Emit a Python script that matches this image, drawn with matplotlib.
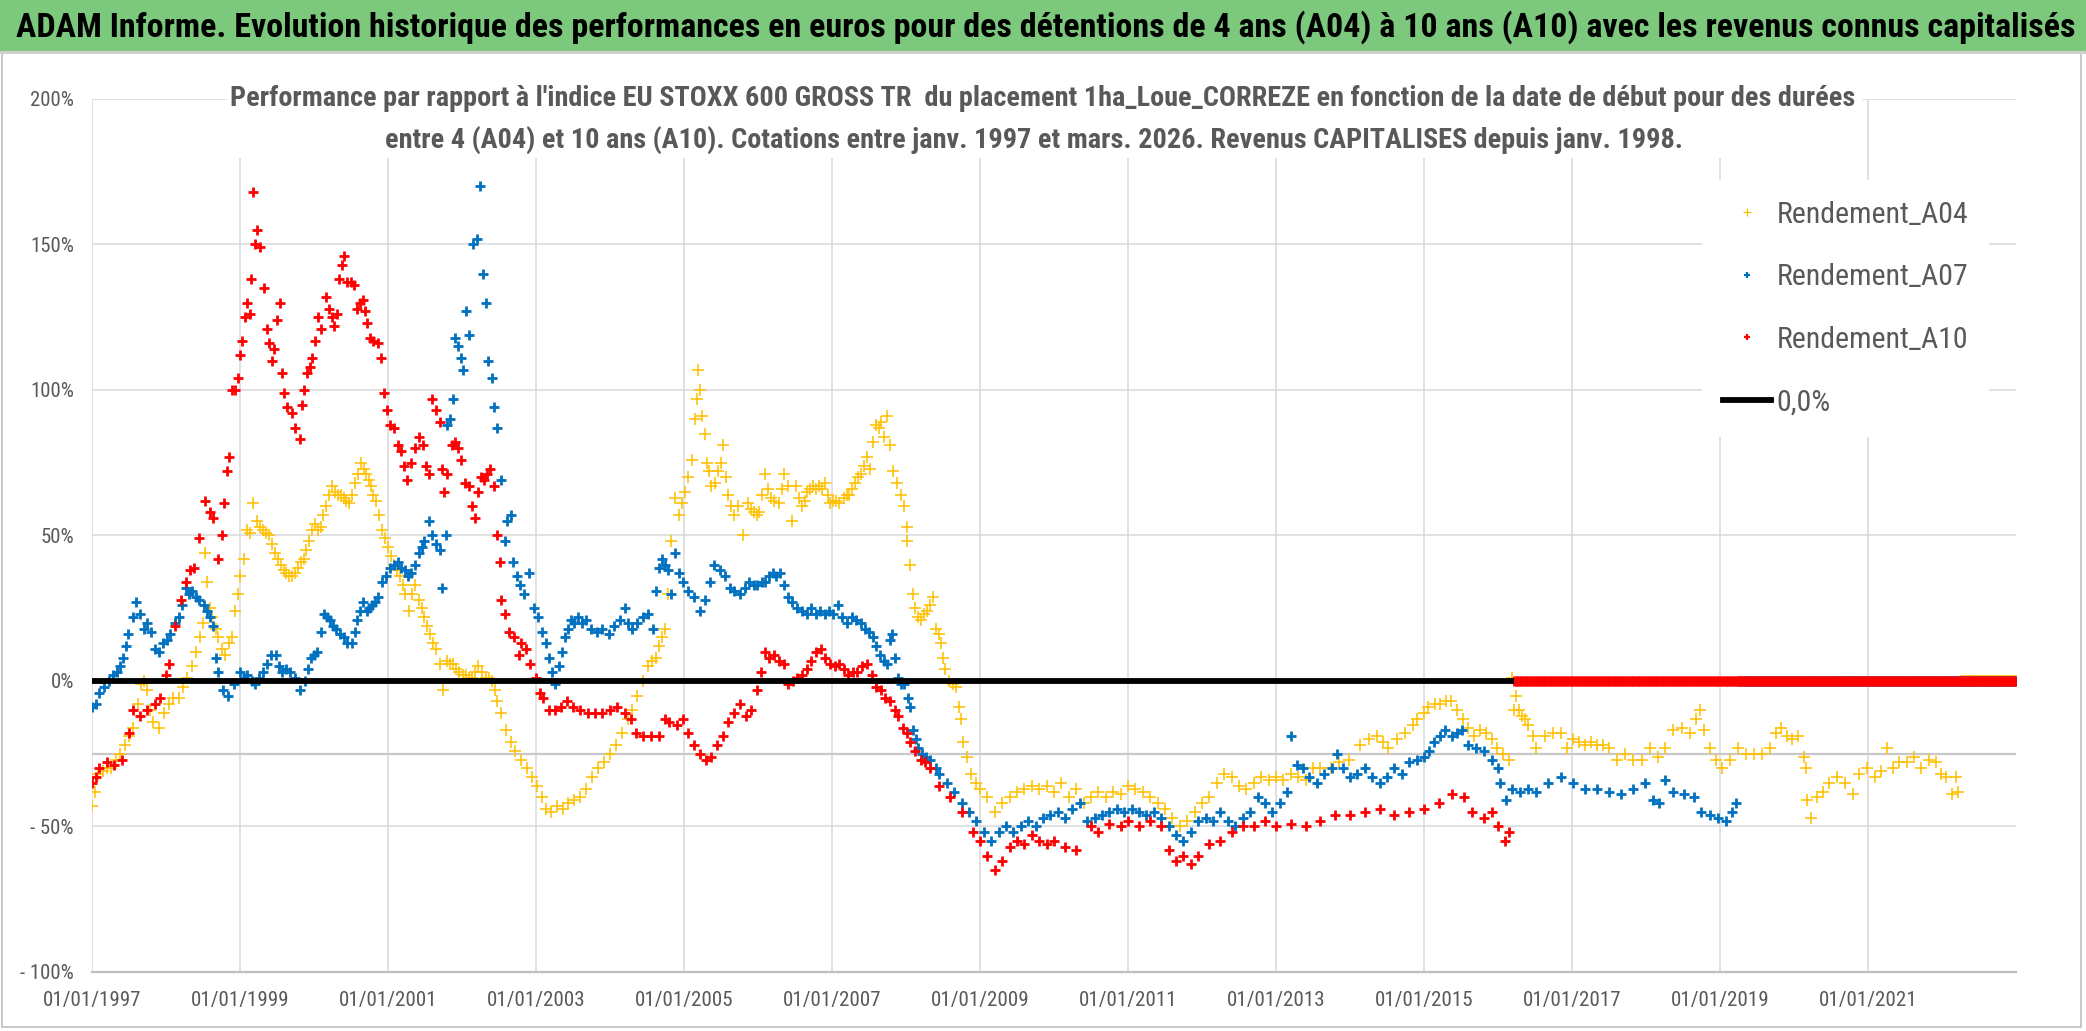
import numpy as np
import pandas as pd
import matplotlib
matplotlib.use("Agg")
from matplotlib import pyplot as plt
from matplotlib import font_manager
from matplotlib.patches import Rectangle
from matplotlib.lines import Line2D
import matplotlib.dates as mdates
from datetime import datetime

# ---- data (decimal year, performance in %) ----
a04_points = [
    (1997.0, -43), (1997.04, -38), (1997.08, -32), (1997.15, -31), (1997.2, -30), (1997.26, -30),
    (1997.32, -27), (1997.38, -25), (1997.44, -22), (1997.5, -19), (1997.56, -16), (1997.62, -8),
    (1997.66, -1), (1997.7, 0), (1997.74, -3), (1997.79, -10), (1997.83, -14), (1997.9, -16),
    (1997.98, -11), (1998.04, -8), (1998.1, -6), (1998.17, -6), (1998.23, -2), (1998.29, 1),
    (1998.35, 5), (1998.41, 10), (1998.46, 15), (1998.5, 20), (1998.53, 44), (1998.56, 34),
    (1998.59, 25), (1998.62, 22), (1998.67, 18), (1998.71, 15), (1998.76, 11), (1998.8, 9),
    (1998.85, 13), (1998.89, 15), (1998.93, 24), (1998.97, 30), (1999.0, 36), (1999.05, 42),
    (1999.1, 52), (1999.14, 51), (1999.18, 61), (1999.23, 55), (1999.27, 53), (1999.31, 52),
    (1999.35, 51), (1999.39, 50), (1999.43, 47), (1999.47, 44), (1999.51, 42), (1999.55, 40),
    (1999.59, 38), (1999.62, 37), (1999.66, 36), (1999.7, 36), (1999.74, 37), (1999.78, 39),
    (1999.82, 41), (1999.86, 42), (1999.9, 45), (1999.94, 48), (1999.98, 52), (2000.01, 54),
    (2000.05, 52), (2000.09, 53), (2000.13, 57), (2000.17, 60), (2000.21, 64), (2000.25, 67),
    (2000.29, 65), (2000.32, 64), (2000.36, 64), (2000.4, 63), (2000.44, 62), (2000.48, 61),
    (2000.52, 64), (2000.56, 68), (2000.6, 71), (2000.64, 75), (2000.67, 73), (2000.7, 71),
    (2000.74, 69), (2000.77, 67), (2000.8, 64), (2000.84, 62), (2000.88, 57), (2000.92, 52),
    (2000.96, 49), (2001.0, 46), (2001.04, 43), (2001.08, 40), (2001.12, 38), (2001.16, 36),
    (2001.2, 33), (2001.23, 30), (2001.29, 24), (2001.33, 30), (2001.36, 33), (2001.42, 28),
    (2001.46, 25), (2001.49, 22), (2001.53, 19), (2001.57, 16), (2001.61, 13), (2001.65, 11),
    (2001.7, 6), (2001.75, -3), (2001.8, 7), (2001.84, 6), (2001.88, 6), (2001.92, 4),
    (2001.96, 3), (2002.01, 2), (2002.06, 2), (2002.1, 1), (2002.14, 1), (2002.18, 3),
    (2002.22, 5), (2002.27, 3), (2002.32, 1), (2002.36, 1), (2002.4, 0), (2002.44, -3),
    (2002.48, -7), (2002.53, -11), (2002.6, -17), (2002.66, -21), (2002.72, -24), (2002.8, -27),
    (2002.88, -30), (2002.95, -33), (2003.02, -36), (2003.08, -40), (2003.14, -44), (2003.2, -45),
    (2003.28, -43), (2003.36, -44), (2003.44, -42), (2003.52, -41), (2003.6, -40), (2003.68, -37),
    (2003.76, -33), (2003.84, -30), (2003.92, -28), (2004.0, -25), (2004.08, -22), (2004.16, -18),
    (2004.24, -13), (2004.3, -10), (2004.36, -5), (2004.44, 0), (2004.52, 5), (2004.57, 7),
    (2004.62, 8), (2004.66, 12), (2004.7, 15), (2004.75, 18), (2004.79, 30), (2004.83, 48),
    (2004.88, 63), (2004.93, 57), (2004.97, 61), (2005.01, 65), (2005.06, 70), (2005.11, 76),
    (2005.15, 90), (2005.17, 97), (2005.19, 107), (2005.22, 100), (2005.24, 91), (2005.28, 85),
    (2005.31, 75), (2005.34, 72), (2005.37, 67), (2005.42, 68), (2005.46, 72), (2005.5, 75),
    (2005.53, 81), (2005.57, 70), (2005.6, 64), (2005.64, 60), (2005.68, 57), (2005.73, 60),
    (2005.8, 50), (2005.86, 61), (2005.9, 59), (2005.94, 58), (2005.98, 57), (2006.02, 58),
    (2006.06, 64), (2006.1, 71), (2006.14, 66), (2006.17, 63), (2006.22, 62), (2006.28, 61),
    (2006.32, 66), (2006.35, 71), (2006.41, 67), (2006.46, 55), (2006.51, 67), (2006.55, 63),
    (2006.59, 60), (2006.63, 62), (2006.66, 65), (2006.7, 66), (2006.74, 67), (2006.78, 66),
    (2006.82, 67), (2006.86, 66), (2006.9, 68), (2006.94, 64), (2006.97, 61), (2007.01, 62),
    (2007.05, 62), (2007.1, 61), (2007.16, 63), (2007.2, 64), (2007.23, 64), (2007.27, 66),
    (2007.31, 68), (2007.35, 70), (2007.39, 71), (2007.43, 74), (2007.47, 77), (2007.52, 73),
    (2007.56, 82), (2007.59, 88), (2007.63, 87), (2007.67, 89), (2007.7, 84), (2007.75, 91),
    (2007.78, 81), (2007.83, 72), (2007.88, 68), (2007.93, 64), (2007.98, 60), (2008.01, 53),
    (2008.02, 48), (2008.05, 40), (2008.09, 30), (2008.12, 25), (2008.16, 22), (2008.21, 21),
    (2008.25, 23), (2008.29, 24), (2008.33, 26), (2008.37, 29), (2008.4, 18), (2008.44, 16),
    (2008.47, 13), (2008.5, 8), (2008.53, 4), (2008.58, 0), (2008.63, -1), (2008.68, -2),
    (2008.71, -9), (2008.74, -13), (2008.77, -21), (2008.82, -26), (2008.88, -32), (2008.95, -35),
    (2009.0, -37), (2009.1, -40), (2009.2, -45), (2009.3, -42), (2009.4, -40), (2009.5, -38),
    (2009.6, -37), (2009.7, -36), (2009.8, -37), (2009.9, -36), (2010.0, -38), (2010.1, -35),
    (2010.2, -40), (2010.3, -37), (2010.4, -42), (2010.5, -40), (2010.6, -38), (2010.7, -40),
    (2010.8, -38), (2010.9, -39), (2011.0, -36), (2011.1, -37), (2011.2, -38), (2011.3, -40),
    (2011.4, -42), (2011.5, -44), (2011.6, -47), (2011.7, -50), (2011.8, -48), (2011.9, -45),
    (2012.0, -42), (2012.1, -40), (2012.2, -35), (2012.3, -32), (2012.4, -33), (2012.5, -36),
    (2012.6, -37), (2012.7, -35), (2012.8, -33), (2012.9, -34), (2013.0, -33), (2013.1, -34),
    (2013.2, -32), (2013.3, -33), (2013.4, -34), (2013.5, -30), (2013.6, -30), (2013.74, -30),
    (2013.85, -28), (2013.98, -27), (2014.13, -22), (2014.25, -20), (2014.36, -19), (2014.45, -21),
    (2014.52, -23), (2014.63, -20), (2014.75, -18), (2014.85, -15), (2014.91, -13), (2015.0, -11),
    (2015.06, -9), (2015.15, -8), (2015.22, -8), (2015.3, -7), (2015.37, -7), (2015.45, -10),
    (2015.53, -13), (2015.6, -16), (2015.68, -19), (2015.76, -17), (2015.84, -18), (2015.92, -20),
    (2015.99, -23), (2016.07, -25), (2016.15, -27), (2016.19, 1), (2016.22, -10), (2016.25, -5),
    (2016.28, -10), (2016.32, -12), (2016.36, -13), (2016.41, -15), (2016.47, -19), (2016.52, -23),
    (2016.63, -19), (2016.74, -18), (2016.85, -18), (2016.93, -23), (2017.01, -20), (2017.09, -21),
    (2017.17, -22), (2017.25, -21), (2017.34, -22), (2017.42, -22), (2017.5, -23), (2017.61, -27),
    (2017.72, -25), (2017.83, -27), (2017.94, -27), (2018.05, -23), (2018.16, -26), (2018.26, -23),
    (2018.37, -17), (2018.48, -16), (2018.59, -18), (2018.67, -13), (2018.73, -10), (2018.78, -17),
    (2018.86, -23), (2018.95, -27), (2019.03, -30), (2019.14, -27), (2019.25, -23), (2019.35, -25),
    (2019.46, -25), (2019.57, -25), (2019.68, -23), (2019.76, -18), (2019.82, -16), (2019.9, -19),
    (2019.98, -20), (2020.06, -19), (2020.14, -26), (2020.16, -30), (2020.17, -41), (2020.23, -47),
    (2020.31, -40), (2020.39, -38), (2020.47, -35), (2020.58, -33), (2020.69, -35), (2020.8, -39),
    (2020.88, -32), (2020.99, -30), (2021.1, -33), (2021.18, -31), (2021.26, -23), (2021.34, -30),
    (2021.42, -28), (2021.53, -28), (2021.62, -26), (2021.72, -30), (2021.83, -27), (2021.92, -28),
    (2021.99, -32), (2022.05, -33), (2022.13, -39), (2022.19, -33), (2022.22, -38),
]

a07_points = [
    (1997.0, -9), (1997.05, -8), (1997.1, -4), (1997.16, -2), (1997.23, 0), (1997.28, 2),
    (1997.34, 3), (1997.38, 5), (1997.42, 8), (1997.46, 12), (1997.49, 16), (1997.55, 22),
    (1997.6, 27), (1997.65, 23), (1997.7, 18), (1997.75, 20), (1997.8, 17), (1997.85, 11),
    (1997.9, 10), (1997.96, 13), (1998.02, 14), (1998.06, 16), (1998.12, 20), (1998.17, 22),
    (1998.22, 26), (1998.27, 32), (1998.31, 30), (1998.35, 31), (1998.4, 29), (1998.45, 28),
    (1998.51, 26), (1998.55, 24), (1998.6, 22), (1998.64, 19), (1998.67, 8), (1998.7, 3),
    (1998.77, -3), (1998.84, -5), (1998.92, -1), (1999.0, 3), (1999.05, 1), (1999.1, 2),
    (1999.16, 0), (1999.21, -1), (1999.26, 1), (1999.31, 3), (1999.37, 6), (1999.42, 9),
    (1999.49, 9), (1999.53, 5), (1999.57, 3), (1999.63, 4), (1999.68, 3), (1999.75, 1),
    (1999.81, -3), (1999.88, 0), (1999.92, 4), (1999.96, 8), (2000.0, 9), (2000.04, 10),
    (2000.09, 17), (2000.14, 23), (2000.18, 22), (2000.22, 21), (2000.26, 19), (2000.3, 18),
    (2000.35, 16), (2000.4, 15), (2000.45, 13), (2000.51, 13), (2000.55, 17), (2000.58, 21),
    (2000.62, 24), (2000.66, 27), (2000.71, 24), (2000.75, 25), (2000.79, 26), (2000.83, 27),
    (2000.87, 29), (2000.92, 34), (2000.97, 36), (2001.03, 39), (2001.08, 40), (2001.13, 41),
    (2001.18, 39), (2001.23, 38), (2001.27, 36), (2001.31, 37), (2001.37, 40), (2001.42, 44),
    (2001.46, 46), (2001.49, 48), (2001.55, 55), (2001.6, 50), (2001.65, 47), (2001.7, 45),
    (2001.73, 32), (2001.78, 50), (2001.8, 88), (2001.84, 90), (2001.88, 97), (2001.91, 118),
    (2001.95, 115), (2001.99, 111), (2002.01, 107), (2002.06, 127), (2002.1, 119), (2002.15, 150),
    (2002.2, 152), (2002.25, 170), (2002.28, 140), (2002.32, 130), (2002.35, 110), (2002.4, 104),
    (2002.43, 94), (2002.48, 87), (2002.53, 69), (2002.58, 48), (2002.61, 55), (2002.66, 57),
    (2002.69, 41), (2002.74, 36), (2002.79, 33), (2002.84, 30), (2002.9, 37), (2002.97, 25),
    (2003.03, 22), (2003.08, 17), (2003.13, 13), (2003.18, 8), (2003.22, 3), (2003.26, -1),
    (2003.31, 5), (2003.35, 10), (2003.39, 15), (2003.43, 18), (2003.47, 21), (2003.52, 20),
    (2003.57, 22), (2003.62, 20), (2003.68, 21), (2003.75, 18), (2003.83, 17), (2003.9, 18),
    (2003.99, 16), (2004.06, 19), (2004.14, 21), (2004.2, 25), (2004.25, 20), (2004.3, 18),
    (2004.37, 20), (2004.45, 22), (2004.52, 23), (2004.58, 18), (2004.62, 31), (2004.66, 39),
    (2004.7, 42), (2004.74, 40), (2004.78, 38), (2004.83, 30), (2004.88, 44), (2004.93, 37),
    (2004.98, 34), (2005.06, 31), (2005.14, 29), (2005.22, 24), (2005.29, 28), (2005.35, 34),
    (2005.4, 40), (2005.48, 38), (2005.55, 36), (2005.62, 32), (2005.68, 31), (2005.76, 30),
    (2005.82, 32), (2005.88, 34), (2005.94, 33), (2005.99, 33), (2006.05, 34), (2006.1, 34),
    (2006.15, 36), (2006.2, 37), (2006.25, 36), (2006.3, 37), (2006.35, 33), (2006.4, 29),
    (2006.46, 27), (2006.53, 25), (2006.6, 24), (2006.66, 23), (2006.72, 25), (2006.78, 23),
    (2006.84, 24), (2006.9, 23), (2006.96, 24), (2007.02, 23), (2007.08, 26), (2007.14, 22),
    (2007.2, 20), (2007.27, 22), (2007.33, 21), (2007.39, 20), (2007.45, 18), (2007.5, 17),
    (2007.55, 15), (2007.6, 12), (2007.65, 9), (2007.7, 7), (2007.74, 6), (2007.78, 14),
    (2007.81, 16), (2007.85, 8), (2007.89, 1), (2007.94, -1), (2007.98, -1), (2008.03, -6),
    (2008.06, -9), (2008.09, -17), (2008.13, -20), (2008.16, -23), (2008.22, -25), (2008.27, -26),
    (2008.32, -27), (2008.4, -30), (2008.45, -32), (2008.55, -35), (2008.65, -38), (2008.75, -42),
    (2008.85, -45), (2008.95, -48), (2009.05, -52), (2009.15, -55), (2009.25, -52), (2009.35, -50),
    (2009.45, -52), (2009.55, -50), (2009.65, -48), (2009.75, -50), (2009.85, -47), (2009.95, -46),
    (2010.05, -45), (2010.15, -47), (2010.25, -44), (2010.35, -42), (2010.45, -48), (2010.55, -47),
    (2010.65, -46), (2010.75, -45), (2010.85, -44), (2010.95, -45), (2011.05, -44), (2011.15, -45),
    (2011.25, -46), (2011.35, -45), (2011.45, -47), (2011.55, -50), (2011.65, -53), (2011.75, -55),
    (2011.85, -52), (2011.95, -48), (2012.05, -47), (2012.15, -48), (2012.25, -45), (2012.35, -48),
    (2012.45, -50), (2012.55, -47), (2012.65, -45), (2012.75, -40), (2012.85, -42), (2012.95, -45),
    (2013.05, -42), (2013.15, -38), (2013.2, -19), (2013.28, -29), (2013.36, -30), (2013.45, -33),
    (2013.55, -35), (2013.65, -32), (2013.75, -30), (2013.82, -25), (2013.9, -30), (2014.0, -33),
    (2014.1, -32), (2014.2, -30), (2014.3, -33), (2014.4, -35), (2014.5, -33), (2014.6, -30),
    (2014.7, -32), (2014.8, -28), (2014.9, -27), (2015.0, -26), (2015.07, -24), (2015.14, -21),
    (2015.22, -19), (2015.29, -17), (2015.38, -19), (2015.45, -18), (2015.51, -17), (2015.6, -22),
    (2015.7, -23), (2015.81, -24), (2015.92, -27), (2016.0, -30), (2016.03, -35), (2016.11, -41),
    (2016.19, -37), (2016.3, -38), (2016.41, -37), (2016.52, -38), (2016.68, -35), (2016.85, -33),
    (2017.01, -35), (2017.17, -37), (2017.34, -37), (2017.5, -38), (2017.66, -39), (2017.83, -37),
    (2017.99, -35), (2018.1, -41), (2018.18, -42), (2018.26, -34), (2018.37, -38), (2018.51, -39),
    (2018.65, -40), (2018.75, -45), (2018.86, -46), (2018.97, -47), (2019.08, -48), (2019.16, -45),
    (2019.22, -42),
]

a10_points = [
    (1997.0, -35), (1997.05, -33), (1997.1, -30), (1997.2, -28), (1997.3, -29), (1997.4, -27),
    (1997.5, -18), (1997.56, -10), (1997.65, -12), (1997.74, -10), (1997.85, -8), (1997.92, -6),
    (1998.0, 2), (1998.04, 6), (1998.12, 19), (1998.2, 28), (1998.27, 34), (1998.33, 38),
    (1998.38, 39), (1998.45, 49), (1998.53, 62), (1998.6, 58), (1998.64, 56), (1998.71, 42),
    (1998.76, 50), (1998.79, 61), (1998.82, 72), (1998.85, 77), (1998.89, 100), (1998.93, 100),
    (1998.97, 104), (1999.0, 112), (1999.03, 117), (1999.07, 125), (1999.1, 130), (1999.13, 126),
    (1999.15, 138), (1999.18, 168), (1999.2, 150), (1999.23, 155), (1999.27, 149), (1999.32, 135),
    (1999.37, 121), (1999.4, 116), (1999.43, 110), (1999.46, 114), (1999.5, 124), (1999.54, 130),
    (1999.57, 106), (1999.6, 99), (1999.64, 94), (1999.7, 92), (1999.75, 87), (1999.81, 83),
    (1999.84, 95), (1999.87, 100), (1999.91, 106), (1999.95, 108), (1999.98, 111), (2000.02, 117),
    (2000.06, 125), (2000.1, 121), (2000.16, 132), (2000.2, 128), (2000.24, 125), (2000.27, 122),
    (2000.31, 126), (2000.34, 138), (2000.38, 143), (2000.41, 146), (2000.45, 137), (2000.5, 137),
    (2000.54, 136), (2000.58, 128), (2000.62, 130), (2000.66, 131), (2000.69, 127), (2000.72, 123),
    (2000.76, 118), (2000.8, 117), (2000.86, 116), (2000.9, 111), (2000.94, 99), (2000.98, 93),
    (2001.03, 88), (2001.08, 87), (2001.13, 81), (2001.18, 79), (2001.22, 74), (2001.26, 69),
    (2001.31, 75), (2001.36, 80), (2001.42, 84), (2001.47, 81), (2001.52, 74), (2001.55, 71),
    (2001.6, 97), (2001.65, 93), (2001.7, 89), (2001.73, 73), (2001.76, 65), (2001.8, 71),
    (2001.86, 81), (2001.9, 82), (2001.94, 80), (2001.99, 76), (2002.04, 68), (2002.09, 67),
    (2002.14, 60), (2002.17, 56), (2002.22, 65), (2002.26, 70), (2002.3, 69), (2002.34, 71),
    (2002.38, 73), (2002.43, 67), (2002.48, 50), (2002.51, 41), (2002.53, 28), (2002.58, 23),
    (2002.64, 17), (2002.71, 15), (2002.77, 9), (2002.8, 13), (2002.87, 11), (2002.92, 6),
    (2003.0, 1), (2003.05, -4), (2003.1, -6), (2003.18, -10), (2003.26, -10), (2003.34, -9),
    (2003.42, -7), (2003.5, -9), (2003.6, -10), (2003.7, -11), (2003.8, -11), (2003.9, -11),
    (2004.0, -10), (2004.1, -9), (2004.2, -11), (2004.28, -13), (2004.35, -18), (2004.45, -19),
    (2004.55, -19), (2004.66, -19), (2004.74, -13), (2004.8, -14), (2004.9, -15), (2004.98, -13),
    (2005.06, -18), (2005.14, -22), (2005.22, -25), (2005.3, -27), (2005.37, -26), (2005.45, -22),
    (2005.53, -19), (2005.6, -14), (2005.68, -11), (2005.76, -8), (2005.84, -12), (2005.9, -10),
    (2005.99, -3), (2006.04, 3), (2006.1, 10), (2006.15, 8), (2006.22, 9), (2006.28, 7),
    (2006.35, 6), (2006.41, -1), (2006.47, 0), (2006.53, 1), (2006.6, 2), (2006.66, 4),
    (2006.72, 7), (2006.78, 10), (2006.85, 11), (2006.91, 8), (2006.97, 6), (2007.04, 5),
    (2007.1, 6), (2007.16, 4), (2007.22, 2), (2007.28, 3), (2007.34, 3), (2007.4, 5),
    (2007.47, 6), (2007.54, 2), (2007.6, -2), (2007.66, -3), (2007.72, -6), (2007.78, -7),
    (2007.85, -10), (2007.9, -12), (2007.96, -16), (2008.01, -18), (2008.06, -21), (2008.12, -24),
    (2008.2, -27), (2008.26, -28), (2008.32, -30), (2008.45, -36), (2008.6, -40), (2008.75, -45),
    (2008.9, -52), (2009.0, -55), (2009.1, -60), (2009.2, -65), (2009.3, -62), (2009.4, -57),
    (2009.5, -55), (2009.6, -56), (2009.7, -53), (2009.8, -55), (2009.9, -56), (2010.0, -55),
    (2010.15, -57), (2010.3, -58), (2010.5, -50), (2010.6, -52), (2010.75, -49), (2010.9, -50),
    (2011.0, -48), (2011.15, -50), (2011.3, -48), (2011.45, -50), (2011.55, -58), (2011.65, -62),
    (2011.75, -60), (2011.85, -63), (2011.95, -60), (2012.1, -56), (2012.25, -55), (2012.4, -52),
    (2012.55, -50), (2012.7, -50), (2012.85, -48), (2013.0, -50), (2013.2, -49), (2013.4, -50),
    (2013.6, -48), (2013.8, -46), (2014.0, -46), (2014.2, -45), (2014.4, -44), (2014.6, -46),
    (2014.8, -45), (2015.0, -44), (2015.2, -42), (2015.38, -39), (2015.54, -40), (2015.65, -45),
    (2015.81, -47), (2015.92, -45), (2016.0, -50), (2016.1, -55), (2016.15, -52),
]

# after the end of each holding window the sheet carries 0 up to the axis end
tail_end = 2023.0
a04_tail_start = 2022.25
a07_tail_start = 2019.25
a10_tail_start = 2016.22
tail_value = 0.0

zero_line_years = [1997.0, 2016.22]
zero_line_values = [0.0, 0.0]

x_tick_years = [1997, 1999, 2001, 2003, 2005, 2007, 2009, 2011, 2013, 2015, 2017, 2019, 2021]
y_ticks = [-100, -50, 0, 50, 100, 150, 200]

title = ("ADAM Informe. Evolution historique des performances en euros pour des détentions "
         "de 4 ans (A04) à 10 ans (A10) avec les revenus connus capitalisés")
subtitle_1 = ("Performance par rapport à l'indice EU STOXX 600 GROSS TR  du placement "
              "1ha_Loue_CORREZE en fonction de la date de début pour des durées")
subtitle_2 = ("entre 4 (A04) et 10 ans (A10). Cotations entre janv. 1997 et mars. 2026. "
              "Revenus CAPITALISES depuis janv. 1998.")
labels = ["Rendement_A04", "Rendement_A07", "Rendement_A10", "0,0%"]

YELLOW = "#FFC000"
BLUE = "#0070C0"
RED = "#FF0000"
GREY_TXT = "#595959"


def to_date(y):
    year = int(np.floor(y))
    start = datetime(year, 1, 1)
    end = datetime(year + 1, 1, 1)
    return start + (end - start) * (y - year)


def series(points, tail_start):
    yrs = [p[0] for p in points]
    vals = [p[1] for p in points]
    tail = pd.date_range(to_date(tail_start), to_date(tail_end), freq="7D")
    dates = [to_date(y) for y in yrs] + list(tail)
    vals = vals + [tail_value] * len(tail)
    return dates, vals


# pick a narrow sans font (closest to Calibri)
FONT = "DejaVu Sans"
for name in ["Liberation Sans Narrow", "Roboto Condensed", "Open Sans", "Liberation Sans"]:
    try:
        font_manager.findfont(name, fallback_to_default=False)
        FONT = name
        break
    except Exception:
        pass
plt.rcParams["font.family"] = [FONT, "DejaVu Sans"]

W, H = 2086, 1031
fig = plt.figure(figsize=(W / 100, H / 100), dpi=100)
renderer = fig.canvas.get_renderer()


def fit_size(text, target_px, weight="normal", base=20):
    t = fig.text(0, 0, text, fontsize=base, fontweight=weight)
    w = t.get_window_extent(renderer).width
    t.remove()
    return base * target_px / w


# chart frame + green header band
fig.add_artist(Rectangle((2 / W, 4 / H), 2079 / W, 1 - 6 / H, transform=fig.transFigure,
                         fc="white", ec="#BFBFBF", lw=1.2, zorder=-1))
fig.add_artist(Rectangle((0, 1 - 51 / H), 1, 51 / H, transform=fig.transFigure,
                         fc="#7CC87C", ec="none", zorder=-1))
fig.add_artist(Rectangle((0, 1 - 54 / H), 1, 3 / H, transform=fig.transFigure,
                         fc="#D0D0D0", ec="none", zorder=-1))

ax = fig.add_axes([92 / W, 1 - 972 / H, (2016 - 92) / W, (972 - 99) / H])
ax.set_facecolor("none")

d04, v04 = series(a04_points, a04_tail_start)
d07, v07 = series(a07_points, a07_tail_start)
d10, v10 = series(a10_points, a10_tail_start)

l04, = ax.plot(d04, v04, ls="none", marker="+", ms=8, mew=1.15, color=YELLOW, zorder=3)
l07, = ax.plot(d07, v07, ls="none", marker="+", ms=7, mew=2.0, color=BLUE, zorder=4)
l10, = ax.plot(d10, v10, ls="none", marker="+", ms=7, mew=2.0, color=RED, zorder=5)
lz, = ax.plot([to_date(y) for y in zero_line_years], zero_line_values, color="black",
              lw=4.2, solid_capstyle="butt", zorder=6)

# extra grey horizontal line drawn by the sheet at -25 %
ax.axhline(-25, color="#C8C8C8", lw=1.6, zorder=1)

ax.set_xlim(to_date(1997.0), to_date(tail_end))
ax.set_ylim(-100, 200)
ax.set_xticks([to_date(y) for y in x_tick_years])
ax.xaxis.set_major_formatter(mdates.DateFormatter("%d/%m/%Y"))
ax.set_yticks(y_ticks)
ax.set_yticklabels([f"{v}%" if v >= 0 else f"- {abs(v)}%" for v in y_ticks])
ax.grid(True, color="#D9D9D9", lw=1.1, zorder=0)
ax.set_axisbelow(True)
for s in ["top", "right", "left"]:
    ax.spines[s].set_visible(False)
ax.spines["bottom"].set_color("#BFBFBF")
ax.spines["bottom"].set_linewidth(1.6)

ytick_fs = fit_size("200%", 44)
xtick_fs = fit_size("01/01/1997", 98)
ax.tick_params(axis="y", length=0, pad=13, labelsize=ytick_fs, labelcolor=GREY_TXT)
ax.tick_params(axis="x", length=0, pad=14, labelsize=xtick_fs, labelcolor=GREY_TXT)

# title band text
fig.text(1046 / W, 1 - 27 / H, title, ha="center", va="center", color="black",
         fontsize=fit_size(title, 2019), fontweight="bold")

# subtitle with white box hiding the grid behind it
fig.add_artist(Rectangle((227 / W, 1 - 158 / H), (1862 - 227) / W, (158 - 76) / H,
                         transform=fig.transFigure, fc="white", ec="none", zorder=1))
sub_fs = fit_size(subtitle_1, 1618, "bold")
fig.text(1043 / W, 1 - 99 / H, subtitle_1, ha="center", va="center", color=GREY_TXT,
         fontsize=sub_fs, fontweight="bold", zorder=3)
fig.text(1034 / W, 1 - 140 / H, subtitle_2, ha="center", va="center", color=GREY_TXT,
         fontsize=sub_fs, fontweight="bold", zorder=3)

# legend
leg_fs = fit_size("Rendement_A04", 192)
h04 = Line2D([], [], ls="none", marker="+", ms=6, mew=0.9, color=YELLOW)
h07 = Line2D([], [], ls="none", marker="+", ms=5, mew=1.6, color=BLUE)
h10 = Line2D([], [], ls="none", marker="+", ms=5, mew=1.6, color=RED)
hz = Line2D([], [], color="black", lw=4.2)
leg = fig.legend([h04, h07, h10, hz], labels, loc="upper left",
                 bbox_to_anchor=(1702 / W, 1 - 180 / H), fontsize=leg_fs,
                 frameon=True, facecolor="white", edgecolor="none", framealpha=1,
                 borderpad=0.7, labelspacing=1.15, handlelength=1.6, handletextpad=0.2,
                 borderaxespad=0, fancybox=False)
for t in leg.get_texts():
    t.set_color(GREY_TXT)

fig.savefig("out.png", dpi=100, facecolor="white")
